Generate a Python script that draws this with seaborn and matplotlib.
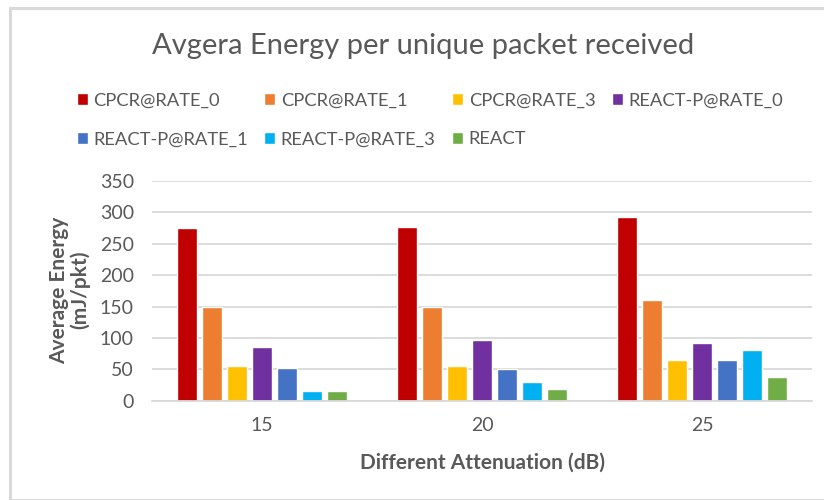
import matplotlib
matplotlib.use("Agg")
import matplotlib.pyplot as plt
from matplotlib.patches import Rectangle
import seaborn as sns
import pandas as pd

# Attenuation levels (dB) on the x axis
attenuations = ["15", "20", "25"]

# Average energy per unique packet (mJ/pkt) for each scheme
series_names = [
    "CPCR@RATE_0", "CPCR@RATE_1", "CPCR@RATE_3",
    "REACT-P@RATE_0", "REACT-P@RATE_1", "REACT-P@RATE_3", "REACT",
]
cpcr_rate0 = [275, 277, 292]
cpcr_rate1 = [150, 150, 160]
cpcr_rate3 = [55, 55, 65]
reactp_rate0 = [85, 97, 92]
reactp_rate1 = [52, 50, 65]
reactp_rate3 = [15, 29, 80]
react = [15, 18, 37]

series_values = [cpcr_rate0, cpcr_rate1, cpcr_rate3,
                 reactp_rate0, reactp_rate1, reactp_rate3, react]

colors = ["#C00000", "#ED7D31", "#FFC000", "#7030A0",
          "#4472C4", "#00B0F0", "#70AD47"]

rows = []
for name, vals in zip(series_names, series_values):
    for att, v in zip(attenuations, vals):
        rows.append({"Attenuation": att, "Scheme": name, "Energy": v})
df = pd.DataFrame(rows)

sns.set_theme(style="white")
plt.rcParams["font.family"] = ["Lato", "DejaVu Sans"]

text_color = "#595959"
grid_color = "#D9D9D9"

W, H = 824, 500
fig = plt.figure(figsize=(W / 100, H / 100), dpi=100)
fig.patch.set_facecolor("white")

# chart-area frame
fig.patches.append(Rectangle((10 / W, 0), 1, 1 - 8 / H, transform=fig.transFigure,
                             fill=False, edgecolor=grid_color, linewidth=2.2))

ax = fig.add_axes([152 / W, 1 - 400.7 / H, 660 / W, 219.7 / H])

sns.barplot(data=df, x="Attenuation", y="Energy", hue="Scheme",
            order=attenuations, hue_order=series_names, palette=colors,
            width=0.8, gap=0.2, saturation=1, ax=ax, legend=True)

ax.set_ylim(0, 350)
ax.set_yticks(range(0, 351, 50))
ax.set_xlim(-0.5, 2.5)
ax.yaxis.grid(True, color=grid_color, linewidth=1.3)
ax.set_axisbelow(True)
for side in ["top", "right", "left"]:
    ax.spines[side].set_visible(False)
ax.spines["bottom"].set_color(grid_color)
ax.spines["bottom"].set_linewidth(1.3)
ax.tick_params(axis="both", length=0, colors=text_color, labelsize=14)
ax.tick_params(axis="y", pad=13)
ax.tick_params(axis="x", pad=12)
ax.set_xlabel("")
ax.set_ylabel("")

# legend filled row by row: 4 entries on top, 3 below
ax.get_legend().remove()
handles, labels = ax.get_legend_handles_labels()
order = [0, 4, 1, 5, 2, 6, 3]
fig.legend([handles[i] for i in order], [labels[i] for i in order],
           loc="center", bbox_to_anchor=(430 / W, 1 - 120 / H),
           ncol=4, frameon=False, fontsize=13.2, labelcolor=text_color,
           handlelength=0.6, handleheight=0.6, handletextpad=0.3,
           columnspacing=0.9, labelspacing=1.25)

fig.text(423 / W, 1 - 46 / H, "Avgera Energy per unique packet received",
         ha="center", va="center", fontsize=21, color=text_color)
fig.text(70 / W, 1 - 290 / H, "Average Energy\n(mJ/pkt)", rotation=90,
         ha="center", va="center", multialignment="center",
         fontsize=15, fontweight="bold", color=text_color, linespacing=1.05)
fig.text(483 / W, 1 - 463 / H, "Different Attenuation (dB)",
         ha="center", va="center", fontsize=15, fontweight="bold", color=text_color)

fig.savefig("out.png", dpi=100, facecolor="white")
